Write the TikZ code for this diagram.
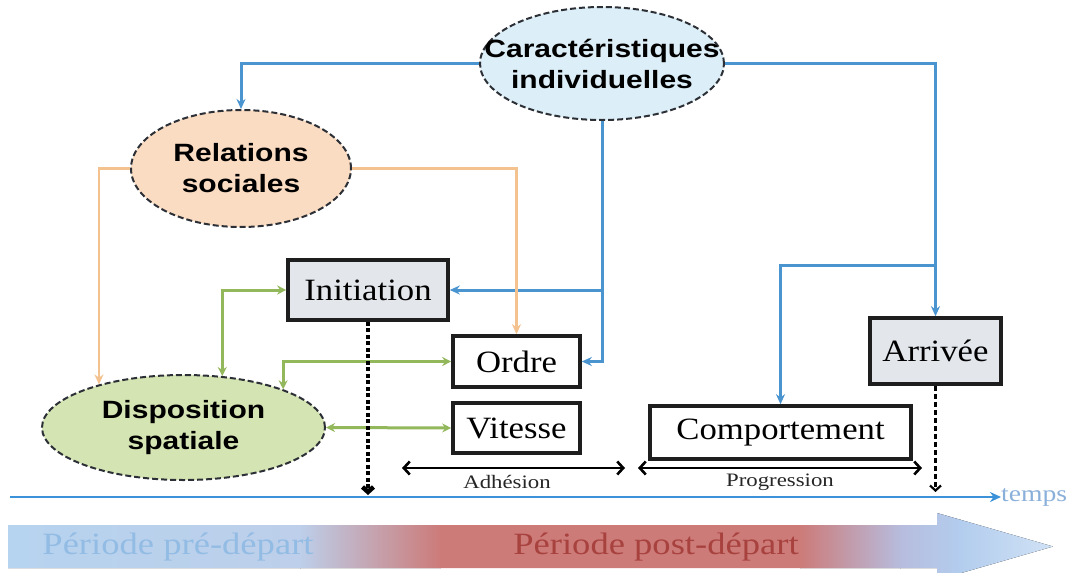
\documentclass[tikz,border=0pt]{standalone}
\usepackage{fontspec}
\setmainfont{Liberation Serif}
\newfontfamily\ellfont[FakeStretch=1.2]{Liberation Sans}
\newfontfamily\boxfont[FakeStretch=1.12]{Liberation Serif}
\newfontfamily\bandfont[FakeStretch=1.18]{Liberation Serif}
\newfontfamily\smallfont[FakeStretch=1.2]{Liberation Serif}
\usetikzlibrary{shapes.geometric,arrows.meta}
\definecolor{cblue}{HTML}{4A94D0}
\definecolor{corange}{HTML}{F3C28E}
\definecolor{cgreen}{HTML}{93B85C}
\definecolor{elldraw}{HTML}{2C3036}
\definecolor{boxdraw}{HTML}{1E1E1E}
\definecolor{fcar}{HTML}{DCEEF7}
\definecolor{frel}{HTML}{FADCC2}
\definecolor{fdisp}{HTML}{D5E4B3}
\definecolor{fbox}{HTML}{E3E7EC}
\definecolor{axisblue}{HTML}{3C92D8}
\definecolor{tempsc}{HTML}{8AB0DA}
\definecolor{bblue}{HTML}{B6D3EF}
\definecolor{bblue2}{HTML}{BDCFEA}
\definecolor{bred}{HTML}{CC7B79}
\definecolor{bpurp}{HTML}{B7BCDD}
\definecolor{bblue3}{HTML}{B3CDEE}
\definecolor{bblue4}{HTML}{D2E3F5}
\definecolor{pretext}{HTML}{93BCE4}
\definecolor{posttext}{HTML}{A8423E}
\begin{document}
\begin{tikzpicture}[x=1pt,y=-1pt,
  ell/.style={ellipse, draw=elldraw, line width=2pt, dash pattern=on 6pt off 3pt,
    inner sep=0pt, align=center, font=\ellfont\bfseries\fontsize{25}{31}\selectfont},
  box/.style={rectangle, draw=boxdraw, line width=3.6pt, inner sep=0pt,
    font=\boxfont\fontsize{31}{36}\selectfont},
  bl/.style={draw=cblue, line width=3pt, -{Stealth[length=10pt,width=9pt]}},
  og/.style={draw=corange, line width=2.6pt, -{Stealth[length=10pt,width=9pt]}},
  gr/.style={draw=cgreen, line width=3pt, {Stealth[length=9pt,width=9pt]}-{Stealth[length=9pt,width=9pt]}},
  dbl/.style={draw=black, line width=2.6pt, {Straight Barb[length=6pt,width=13pt]}-{Straight Barb[length=6pt,width=13pt]}},
  dashA/.style={draw=black, line width=4.5pt, dash pattern=on 4pt off 2.5pt, -{Straight Barb[length=5pt,width=11pt]}},
  dashB/.style={draw=black, line width=2.2pt, dash pattern=on 5pt off 3pt, -{Straight Barb[length=5pt,width=11pt]}},
  lbl/.style={inner sep=1pt, font=\smallfont\fontsize{19}{22}\selectfont, text=black!85},
  bandtxt/.style={inner sep=0pt, font=\bandfont\fontsize{31}{36}\selectfont}
]
\useasboundingbox (0,0) rectangle (1069,573);
\fill[white] (0,0) rectangle (1069,573);

% bottom band arrow
\begin{scope}
\clip (8,525) -- (937,525) -- (937,513) -- (1053,546.5) -- (937,580) -- (937,568) -- (8,568) -- cycle;
\fill[left color=bblue, right color=bblue2] (7,510) rectangle (300.5,582);
\fill[left color=bblue2, right color=bred] (300,510) rectangle (440.5,582);
\fill[bred] (440,510) rectangle (800.5,582);
\fill[left color=bred, right color=bpurp] (800,510) rectangle (900.5,582);
\fill[left color=bpurp, right color=bblue3] (900,510) rectangle (960.5,582);
\fill[left color=bblue3, right color=bblue4] (960,510) rectangle (1060,582);
\end{scope}
\node[bandtxt, text=pretext] (pre) at (178,547) {Période pré-départ};
\node[bandtxt, text=posttext] (post) at (656,547) {Période post-départ};

% nodes
\node[ell, fill=fcar, minimum width=244pt, minimum height=113pt] (car) at (602,63.5)
  {\makebox[0pt]{Caractéristiques}\\\makebox[0pt]{individuelles}};
\node[ell, fill=frel, minimum width=220pt, minimum height=117pt] (rel) at (241,168.5)
  {\makebox[0pt]{Relations}\\\makebox[0pt]{sociales}};
\node[ell, fill=fdisp, minimum width=283pt, minimum height=105pt] (disp) at (183.5,427.5)
  {\makebox[0pt]{Disposition}\\\makebox[0pt]{spatiale}};

\node[box, fill=fbox, minimum width=160pt, minimum height=60pt] (init) at (368,290) {Initiation};
\node[box, fill=white, minimum width=127pt, minimum height=51pt] (ordre) at (516.5,361.5) {Ordre};
\node[box, fill=white, minimum width=127pt, minimum height=50pt] (vit) at (516.5,428) {Vitesse};
\node[box, fill=white, minimum width=261pt, minimum height=53pt] (comp) at (780.5,432.5) {Comportement};
\node[box, fill=fbox, minimum width=131pt, minimum height=66pt] (arr) at (935.5,351) {Arrivée};

% coordinates
\coordinate (tstart) at (10,497);
\node[lbl, text=tempsc, anchor=west, inner sep=0pt, font=\smallfont\fontsize{23}{26}\selectfont] (temps) at (1001,497) {temps};
\coordinate (j1) at (935.5,265);
\coordinate (j2) at (602,290);
\coordinate (ti) at (368,495);
\coordinate (ta) at (935.5,492);
\coordinate (a1) at (402,468);
\coordinate (a2) at (625,468);
\coordinate (p1) at (638,468);
\coordinate (p2) at (922,468);

% time axis
\draw[draw=axisblue, line width=2.6pt, -{Stealth[length=11pt,width=10pt]}] (tstart) -- (temps.west);

% blue connectors
\draw[bl] (car.west) -| (rel.north);
\draw[bl] (car.east) -| (arr.north);
\draw[bl] (j1) -| (comp.north);
\draw[bl] (car.south) |- (ordre.east);
\draw[bl] (j2) -- (init.east);

% orange connectors
\draw[og] (rel.west) -| (disp.153);
\draw[og] (rel.east) -| (ordre.north);

% green connectors
\draw[gr] (init.west) -| (disp.53);
\draw[gr] (ordre.west) -| (disp.21);
\draw[gr] (vit.west) -- (disp.east);

% dashed
\draw[dashA] (init.south) -- (ti);
\draw[dashB] (arr.south) -- (ta);

% phases
\draw[dbl] (a1) -- (a2);
\draw[dbl] (p1) -- (p2);
\node[lbl] (adh) at (507,482) {Adhésion};
\node[lbl] (prog) at (780,482) {Progression};
\end{tikzpicture}
\end{document}
